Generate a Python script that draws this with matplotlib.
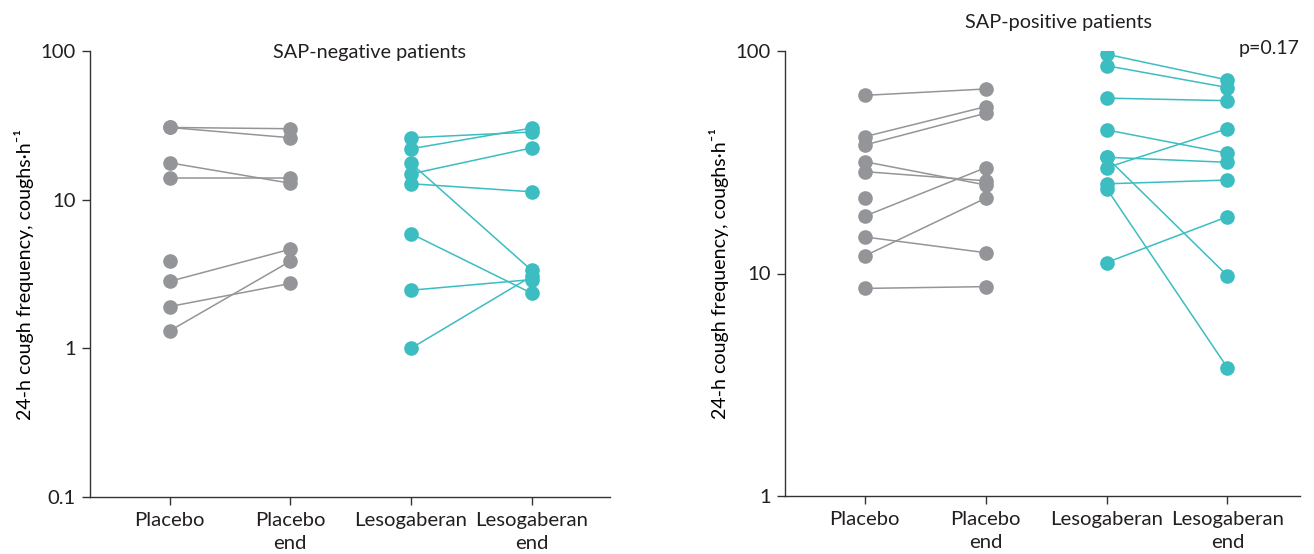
import numpy as np
import matplotlib
matplotlib.use("Agg")
import matplotlib.pyplot as plt
from matplotlib.ticker import FixedLocator, NullLocator

#######################################################################
# Данные
#######################################################################
groups = ["Placebo", "Placebo\nend", "Lesogaberan", "Lesogaberan\nend"]

# SAP-negative
neg_placebo     = [30.6, 30.6, 17.7, 14.0, 3.84, 2.82, 1.91, 1.31]
neg_placebo_end = [30.0, 26.1, 12.9, 14.0, np.nan, 4.64, 2.73, 3.85]
neg_leso        = [26.1, 22.0, 17.6, 14.9, 12.8, 5.91, 2.46, 1.0]
neg_leso_end    = [28.5, 30.3, 3.35, 22.3, 11.3, 2.35, 2.9, 3.05]

# SAP-positive
pos_placebo     = [63.2, 41.2, 37.8, 31.8, 28.7, 21.8, 18.1, 14.6, 12.0, 8.57]
pos_placebo_end = [67.5, 56.2, 52.5, 25.0, 26.1, np.nan, 29.9, 12.4, 21.8, 8.73]
pos_leso        = [96.7, 85.9, 61.4, 44.2, 33.3, 33.3, 29.9, 25.3, 24.1, 11.2]
pos_leso_end    = [74.1, 68.5, 59.8, 34.7, 31.6, 9.77, 44.8, 26.3, 3.77, 18.0]

grey = "#939598"
teal = "#3bbdc2"
fam = ["Lato", "DejaVu Sans"]
plt.rcParams['font.family'] = fam
plt.rcParams['text.color'] = "#231f20"

#######################################################################
def draw_pairs(ax, before, after, x0, color):
    """ линии пациент-за-пациентом """
    for a, b in zip(before, after):
        ax.plot([x0, x0 + 1], [a, b], color=color, lw=1.1, marker="o",
                ms=9.5, mec=color, mfc=color, zorder=3)

def style_axis(ax, yticks, ylims, xlims):
    ax.set_yscale("log")
    ax.set_ylim(*ylims)
    ax.set_xlim(*xlims)
    ax.yaxis.set_major_locator(FixedLocator(yticks))
    ax.yaxis.set_minor_locator(NullLocator())
    ax.set_yticklabels([("%g" % t) for t in yticks])
    ax.set_xticks(range(4))
    ax.set_xticklabels(groups, linespacing=1.4)
    for s in ["top", "right"]:
        ax.spines[s].set_visible(False)
    for s in ["left", "bottom"]:
        ax.spines[s].set_color("#333333")
        ax.spines[s].set_linewidth(1.0)
    ax.tick_params(axis="both", length=6, width=1, color="#333333", labelsize=14.6,
                   labelcolor="#231f20", pad=4)
    ax.tick_params(axis="x", pad=5)
    ax.set_ylabel("24-h cough frequency, coughs\u00b7h\u207b\u00b9", fontsize=14.1,
                  family=fam, labelpad=5)


fig = plt.figure(figsize=(13.14, 5.54), dpi=100)

ax1 = fig.add_axes([90 / 1314, 1 - 497 / 554, 520 / 1314, 446 / 554])
draw_pairs(ax1, neg_placebo, neg_placebo_end, 0, grey)
draw_pairs(ax1, neg_leso, neg_leso_end, 2, teal)
style_axis(ax1, [0.1, 1, 10, 100], (0.1, 100), (-0.66, 3.65))
ax1.text(1.66, 97, "SAP-negative patients", ha="center", va="center", fontsize=14.3)

ax2 = fig.add_axes([785 / 1314, 1 - 496 / 554, 515 / 1314, 445 / 554])
draw_pairs(ax2, pos_placebo, pos_placebo_end, 0, grey)
draw_pairs(ax2, pos_leso, pos_leso_end, 2, teal)
style_axis(ax2, [1, 10, 100], (1, 100), (-0.66, 3.6))
ax2.text(1.6, 1.065, "SAP-positive patients", ha="center", va="center", fontsize=14.3,
         transform=ax2.get_xaxis_transform())
ax2.text(3.6, 103, "p=0.17", ha="right", va="center", fontsize=14)

fig.savefig("out.png", dpi=100)
